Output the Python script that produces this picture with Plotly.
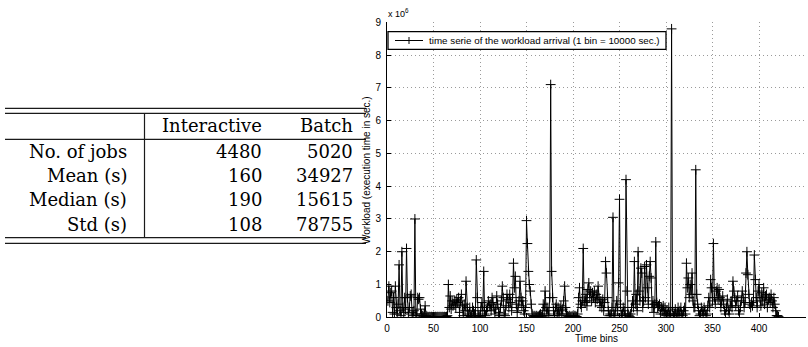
import plotly.graph_objects as go

# ---- table data -------------------------------------------------------
col_headers = ["Interactive", "Batch"]
row_labels = ["No. of jobs", "Mean (s)", "Median (s)", "Std (s)"]
interactive_vals = [4480, 160, 190, 108]
batch_vals = [5020, 34927, 15615, 78755]

# ---- workload time series (values in units of 1e6 s, one per bin) -----
series_name = "time serie of the workload arrival (1 bin = 10000 sec.)"
workload_1e6 = [
    0.5, 0.95, 0.45, 0.75, 0.8, 0.15, 0.6, 0.1, 0.95, 0.3,
    0.1, 0.4, 1.6, 0.2, 0.05, 2.0, 0.3, 0.15, 0.6, 0.25,
    2.1, 0.6, 0.1, 0.3, 0.65, 0.7, 0.15, 0.05, 0.2, 3.0,
    0.1, 0.05, 0.6, 0.55, 0.6, 0.25, 0.1, 0.05, 0.02, 0.1,
    0.35, 0.05, 0.02, 0.02, 0.01, 0.02, 0.01, 0.02, 0.01, 0.02,
    0.01, 0.02, 0.01, 0.02, 0.01, 0.02, 0.01, 0.02, 0.01, 0.02,
    0.01, 0.02, 0.01, 0.02, 0.05, 1.0, 0.3, 0.65, 0.25, 0.5,
    0.35, 0.4, 0.5, 0.3, 0.55, 0.45, 0.6, 0.15, 0.5, 0.7,
    0.35, 0.05, 0.4, 0.2, 1.1, 0.3, 0.05, 0.1, 0.3, 0.02,
    0.05, 0.3, 0.2, 0.1, 0.05, 1.75, 0.6, 0.05, 0.02, 0.05,
    0.3, 0.45, 0.2, 1.4, 0.1, 0.05, 0.2, 0.3, 0.5, 0.35,
    0.4, 0.2, 0.6, 0.45, 0.3, 0.1, 0.25, 0.65, 0.4, 0.15,
    0.05, 0.3, 0.5, 0.95, 0.6, 0.1, 0.05, 0.35, 0.7, 0.55,
    0.3, 0.7, 0.45, 0.2, 0.6, 1.65, 0.9, 1.25, 0.4, 0.15,
    0.3, 0.5, 1.1, 0.6, 0.35, 0.5, 0.2, 0.1, 0.3, 2.95,
    2.25, 1.4, 1.0, 0.8, 0.4, 0.1, 0.05, 0.02, 0.05, 0.02,
    0.05, 0.02, 0.03, 0.05, 0.1, 0.02, 0.05, 0.4, 0.2, 0.8,
    0.3, 0.1, 0.3, 0.05, 0.6, 7.1, 1.4, 0.6, 0.2, 0.05,
    0.3, 0.4, 0.1, 0.3, 0.05, 0.2, 0.35, 0.1, 0.25, 0.5,
    0.95, 0.3, 0.1, 0.05, 0.02, 0.05, 0.02, 0.03, 0.02, 0.05,
    0.02, 0.05, 0.03, 0.02, 0.1, 0.6, 0.9, 0.4, 0.3, 0.5,
    2.1, 0.5, 0.45, 0.7, 0.35, 0.85, 1.05, 0.6, 0.8, 0.5,
    0.75, 0.6, 0.8, 0.45, 0.7, 0.55, 0.95, 0.6, 0.35, 0.5,
    0.3, 0.55, 0.2, 0.45, 1.7, 1.35, 0.6, 0.2, 0.05, 0.1,
    0.05, 0.3, 3.05, 0.1, 0.05, 0.3, 0.5, 0.2, 1.05, 3.6,
    0.4, 0.05, 0.1, 0.3, 0.2, 0.05, 4.2, 0.8, 0.1, 0.05,
    0.02, 0.1, 0.3, 0.5, 0.3, 1.7, 0.4, 0.7, 0.2, 2.0,
    0.8, 0.5, 1.5, 1.35, 0.3, 0.5, 1.55, 0.6, 1.6, 0.9,
    0.4, 1.25, 1.7, 1.2, 0.3, 0.5, 0.15, 0.4, 2.3, 0.45,
    0.3, 0.35, 0.4, 0.1, 0.3, 0.2, 0.35, 0.1, 0.3, 0.05,
    0.2, 0.1, 0.3, 0.05, 0.1, 8.8, 0.3, 0.05, 0.1, 0.25,
    0.05, 0.1, 0.3, 0.05, 0.2, 0.3, 0.1, 0.05, 0.2, 0.3,
    0.1, 1.65, 0.9, 1.2, 0.6, 1.0, 0.7, 1.35, 0.5, 0.3,
    0.3, 4.5, 0.7, 0.4, 0.2, 0.05, 0.1, 0.3, 0.2, 0.1,
    0.3, 0.2, 0.05, 0.1, 0.35, 0.6, 0.3, 1.15, 0.9, 0.5,
    2.25, 0.6, 0.4, 0.8, 0.9, 0.55, 0.85, 0.6, 0.3, 0.5,
    0.65, 0.4, 0.2, 0.1, 0.3, 0.55, 0.2, 0.1, 0.35, 0.5,
    0.3, 1.1, 0.8, 0.6, 0.35, 0.5, 0.65, 0.2, 0.1, 0.3,
    0.5, 0.8, 0.6, 0.3, 0.45, 1.35, 2.0, 1.3, 0.7, 0.4,
    0.3, 0.45, 0.35, 0.5, 1.9, 1.15, 0.6, 0.3, 0.8, 1.0,
    0.6, 0.35, 0.75, 0.5, 0.9, 0.4, 0.65, 0.7, 0.3, 0.55,
    0.6, 0.45, 0.7, 0.5, 0.3, 0.6, 0.4, 0.2, 0.05, 0.05,
    0.02,
]
time_bins = list(range(1, len(workload_1e6) + 1))

x_ticks = list(range(0, 451, 50))
y_ticks = list(range(0, 10))

W, H = 808, 347


def px(x):
    return x / W


def py(y):
    return 1 - y / H


SANS = "Liberation Sans, Arial, Helvetica, sans-serif"
SERIF = "DejaVu Serif, serif"

fig = go.Figure()
fig.add_trace(go.Scatter(
    x=time_bins, y=workload_1e6, mode="lines+markers", name=series_name,
    line=dict(color="black", width=1),
    marker=dict(symbol="cross-thin", size=7,
                line=dict(color="black", width=1), color="black"),
    showlegend=False,
))

axis_common = dict(
    showline=True, linecolor="black", linewidth=1,
    ticks="inside", ticklen=4, tickcolor="black",
    showgrid=True, gridcolor="#9a9a9a", griddash="1px,3px", gridwidth=1,
    zeroline=False, automargin=False,
    tickfont=dict(family=SANS, size=10, color="black"),
)

fig.update_layout(
    width=W, height=H,
    margin=dict(l=0, r=0, t=0, b=0),
    paper_bgcolor="white", plot_bgcolor="white",
    xaxis=dict(domain=[px(387), px(805.5)], range=[0, 450],
               tickvals=x_ticks, ticklabelstandoff=2, **axis_common),
    yaxis=dict(domain=[py(317.3), py(22.3)], range=[0, 9],
               tickvals=y_ticks, ticklabelstandoff=3, **axis_common),
    showlegend=False,
)

annotations = []
# axis titles and exponent
annotations.append(dict(x=px(596), y=py(338), xref="paper", yref="paper",
                        xanchor="center", yanchor="middle",
                        text="Time bins", showarrow=False,
                        font=dict(family=SANS, size=10, color="black")))
annotations.append(dict(x=px(367), y=py(170), xref="paper", yref="paper",
                        xanchor="center", yanchor="middle",
                        text="Workload (execution time in sec.)", textangle=-90,
                        showarrow=False,
                        font=dict(family=SANS, size=10, color="black")))
annotations.append(dict(x=px(386), y=py(13), xref="paper", yref="paper",
                        xanchor="left", yanchor="middle",
                        text="x 10<sup>6</sup>", showarrow=False,
                        font=dict(family=SANS, size=9, color="black")))

# legend box drawn as a framed key
leg_x0, leg_x1, leg_y0, leg_y1 = 388, 666, 31.7, 49.3
leg_mid = (leg_y0 + leg_y1) / 2
annotations.append(dict(x=px(427), y=py(leg_mid), xref="paper", yref="paper",
                        xanchor="left", yanchor="middle", text=series_name,
                        showarrow=False,
                        font=dict(family=SANS, size=9.8, color="black")))

# table text
col_right = [128.5, 264, 355]
header_y = 125.5
row_y = [151, 175.5, 199.5, 224]
tfont = dict(family=SERIF, size=18, color="black")
for j, h in enumerate(col_headers):
    annotations.append(dict(x=px(col_right[j + 1]), y=py(header_y),
                            xref="paper", yref="paper", xanchor="right",
                            yanchor="middle", text=h, showarrow=False, font=tfont))
for i, lab in enumerate(row_labels):
    cells = [lab, str(interactive_vals[i]), str(batch_vals[i])]
    for j, c in enumerate(cells):
        annotations.append(dict(x=px(col_right[j]), y=py(row_y[i]),
                                xref="paper", yref="paper", xanchor="right",
                                yanchor="middle", text=c, showarrow=False,
                                font=tfont))
fig.update_layout(annotations=annotations)

shapes = []
# legend frame, sample line and '+' glyph
shapes.append(dict(type="rect", xref="paper", yref="paper",
                   x0=px(leg_x0), x1=px(leg_x1), y0=py(leg_y1), y1=py(leg_y0),
                   fillcolor="white", line=dict(color="black", width=1.3),
                   layer="above"))
shapes.append(dict(type="line", xref="paper", yref="paper",
                   x0=px(395), x1=px(423), y0=py(leg_mid), y1=py(leg_mid),
                   line=dict(color="black", width=1), layer="above"))
shapes.append(dict(type="line", xref="paper", yref="paper",
                   x0=px(409), x1=px(409), y0=py(leg_mid - 3.5),
                   y1=py(leg_mid + 3.5), line=dict(color="black", width=1),
                   layer="above"))

# table rules
rule = dict(color="#1a1a1a", width=1.2)
for yy in [108.3, 113.3, 139.3, 237.7, 243.3]:
    shapes.append(dict(type="line", xref="paper", yref="paper",
                       x0=px(5), x1=px(366), y0=py(yy), y1=py(yy), line=rule))
shapes.append(dict(type="line", xref="paper", yref="paper",
                   x0=px(144.5), x1=px(144.5), y0=py(113.3), y1=py(237.7),
                   line=rule))
fig.update_layout(shapes=shapes)

fig.write_html("out.html")
